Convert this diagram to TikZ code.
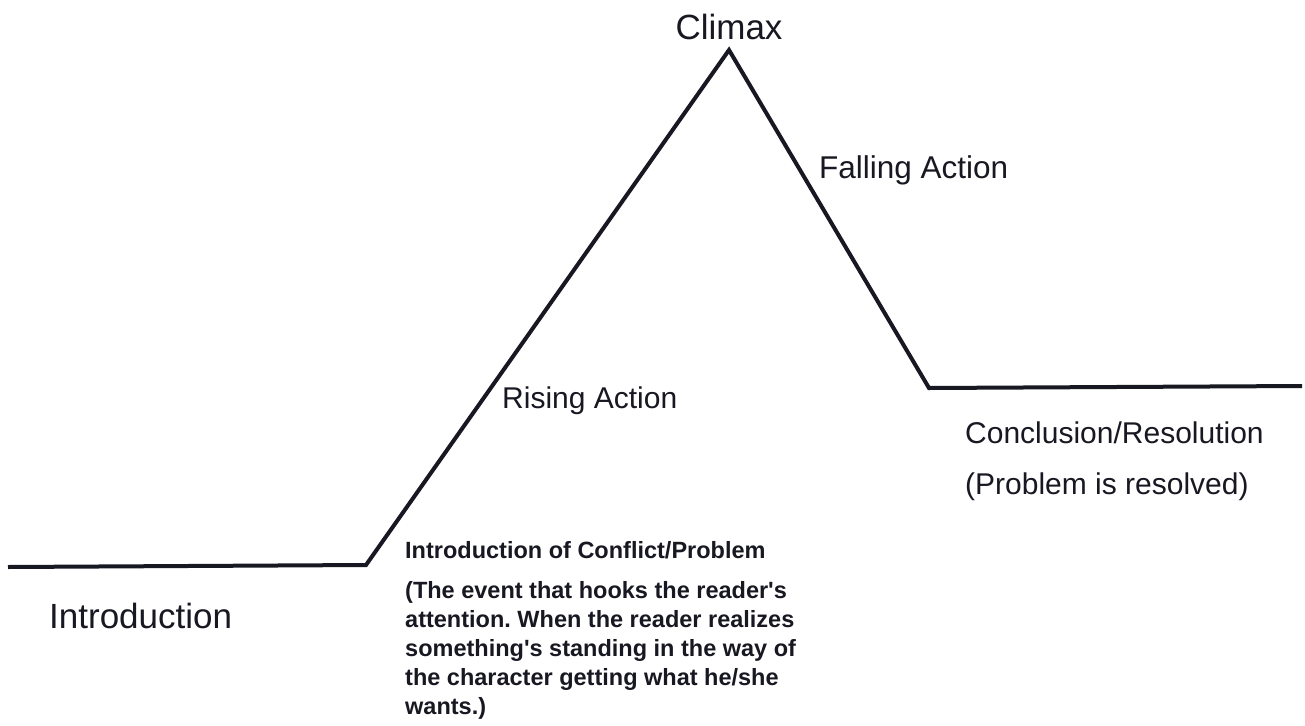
\documentclass[tikz,border=0pt]{standalone}
\usepackage{fontspec}
\setmainfont{Liberation Sans}
\frenchspacing
\definecolor{ink}{RGB}{24,24,34}
\begin{document}
\begin{tikzpicture}[x=1pt,y=-1pt,
  plotline/.style={draw=ink,line width=4pt,line join=miter},
  lbl/.style={inner sep=0pt,text=ink,anchor=base west},
  big/.style={lbl,font=\fontsize{35}{42}\selectfont},
  mid/.style={lbl,font=\fontsize{30}{36}\selectfont},
  note/.style={lbl,font=\fontsize{23.5}{29}\selectfont\bfseries}]
\useasboundingbox (0,0) rectangle (1305,725);
\fill[white] (0,0) rectangle (1305,725);
\coordinate (start) at (8,567);
\coordinate (rise) at (366,565);
\coordinate (peak) at (729,50);
\coordinate (fall) at (929,388);
\coordinate (stop) at (1302,386);
\draw[plotline] (start) -- (rise) -- (peak) -- (fall) -- (stop);
\node[big,anchor=base] (climax) at (729,40) {Climax};
\node[mid,font=\fontsize{31.5}{36}\selectfont] (falling) at (819,178) {Falling Action};
\node[mid] (rising) at (502,408) {Rising Action};
\node[mid] (concl) at (965,443) {Conclusion/Resolution};
\node[mid] (resolved) at (965,494) {(Problem is resolved)};
\node[big] (intro) at (49,628) {Introduction};
\node[note] (conflict) at (405,558) {Introduction of Conflict/Problem};
\node[note] (n1) at (405,598) {(The event that hooks the reader\textquotesingle s};
\node[note] (n2) at (405,627) {attention. When the reader realizes};
\node[note] (n3) at (405,656) {something\textquotesingle s standing in the way of};
\node[note] (n4) at (405,685) {the character getting what he/she};
\node[note] (n5) at (405,714) {wants.)};
\end{tikzpicture}
\end{document}
